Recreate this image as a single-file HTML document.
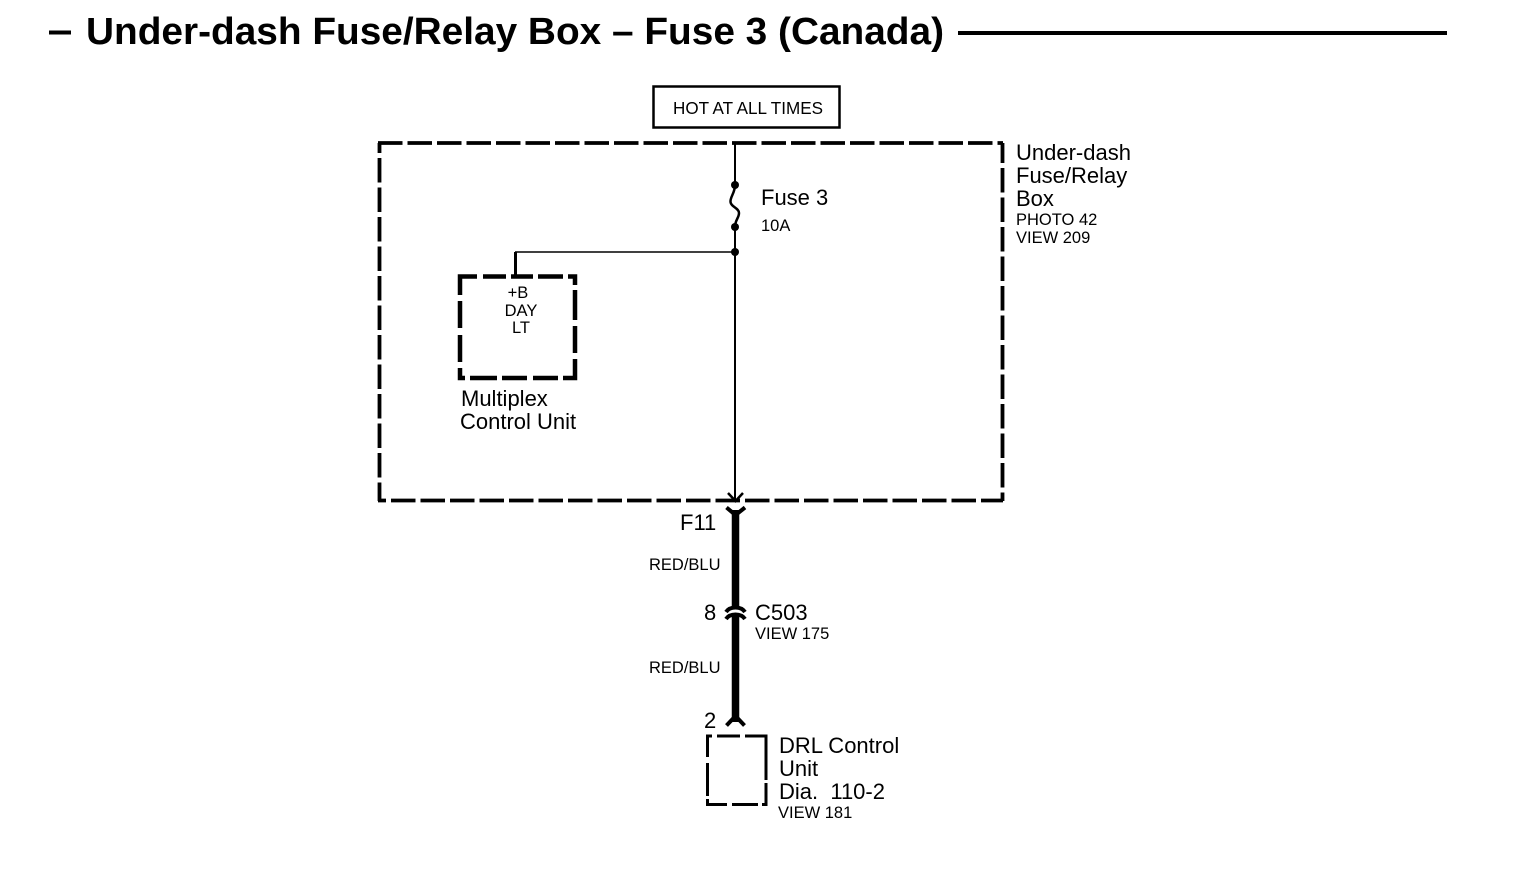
<!DOCTYPE html>
<html><head><meta charset="utf-8"><style>
html,body{margin:0;padding:0;background:#fff;width:1520px;height:876px;overflow:hidden}
svg{display:block}
text{font-family:"Liberation Sans",sans-serif;fill:#000}
.l{font-size:22px}
.s{font-size:16.5px}
</style></head><body>
<svg width="1520" height="876" viewBox="0 0 1520 876" xmlns="http://www.w3.org/2000/svg">
<rect width="1520" height="876" fill="#fff"/>
<!-- title -->
<rect x="49" y="30.500" width="22" height="4"/>
<text x="86" y="44" font-size="38" font-weight="bold" textLength="858" lengthAdjust="spacingAndGlyphs">Under-dash Fuse/Relay Box – Fuse 3 (Canada)</text>
<rect x="958" y="31" width="489" height="4"/>
<!-- hot box -->
<rect x="653.500" y="86.500" width="186" height="41" fill="none" stroke="#000" stroke-width="2.500"/>
<text x="673" y="114" font-size="17.5" textLength="150" lengthAdjust="spacingAndGlyphs">HOT AT ALL TIMES</text>
<!-- outer dashed box -->
<g fill="none" stroke="#000" stroke-width="3.800">
<path d="M378 143H1003" stroke-dasharray="24.500 5" stroke-dashoffset="0"/>
<path d="M379.500 143V501" stroke-dasharray="24.500 5" stroke-dashoffset="14.500"/>
<path d="M378 500.500H1003" stroke-dasharray="24.500 5" stroke-dashoffset="16.500"/>
<path d="M1002.500 143V501" stroke-dasharray="24.500 5" stroke-dashoffset="4.500"/>
</g>
<!-- wires -->
<g fill="none" stroke="#000">
<path d="M735 143V185" stroke-width="2"/>
<path d="M735 185C735 193 730 197 730.500 202C731 207 739 208 739 213C739 218 735 220 735 227" stroke-width="2.500"/>
<path d="M735 227V501" stroke-width="2"/>
<path d="M515 252H735" stroke-width="1.500"/>
<path d="M515.500 252V277" stroke-width="3"/>
<path d="M728 493L735.500 501L743 493" stroke-width="2.500"/>
</g>
<circle cx="735" cy="185" r="4"/>
<circle cx="735" cy="227" r="4"/>
<circle cx="735" cy="252" r="4"/>
<!-- multiplex box -->
<g fill="none" stroke="#000" stroke-width="4.500">
<path d="M460 295V276.500H477M483 276.500H506M511 276.500H533M538 276.500H563M568 276.500H575V285M575 290V320M575 326V353M575 359V378H563M558 378H533M527 378H502M497 378H470M465 378H460V368M460 362V335M460 328V301"/>
</g>
<!-- thick harness -->
<g fill="none" stroke="#000">
<path d="M735.500 510V606" stroke-width="7.500"/>
<path d="M735.500 616V722" stroke-width="7.500"/>
<path d="M726.500 507.500L735.500 515L745 507.500" stroke-width="4"/>
<path d="M726 612C730 606 741 606 745 612" stroke-width="4"/>
<path d="M726 619C730 613 741 613 745 619" stroke-width="4"/>
<path d="M726.500 725.500L735.500 716L744.500 725.500" stroke-width="4"/>
</g>
<!-- DRL box -->
<g fill="none" stroke="#000" stroke-width="3">
<path d="M712 736H707.500V757M707.500 763V796M707.500 799V804.500H727M732 804.500H758M762 804.500H766V783M766 780V736H745M740 736H717"/>
</g>
<!-- labels -->
<text class="l" x="1016" y="160">Under-dash</text>
<text class="l" x="1016" y="183">Fuse/Relay</text>
<text class="l" x="1016" y="206">Box</text>
<text class="s" x="1016" y="225">PHOTO 42</text>
<text class="s" x="1016" y="243">VIEW 209</text>
<text class="l" x="761" y="205">Fuse 3</text>
<text class="s" x="761" y="231">10A</text>
<text class="s" text-anchor="middle" x="518" y="298">+B</text>
<text class="s" text-anchor="middle" x="521" y="316">DAY</text>
<text class="s" text-anchor="middle" x="521" y="333">LT</text>
<text class="l" x="461" y="406">Multiplex</text>
<text class="l" x="460" y="429">Control Unit</text>
<text class="l" x="680" y="530">F11</text>
<text class="s" x="649" y="570">RED/BLU</text>
<text class="l" x="704" y="620">8</text>
<text class="l" x="755" y="620">C503</text>
<text class="s" x="755" y="639">VIEW 175</text>
<text class="s" x="649" y="673">RED/BLU</text>
<text class="l" x="704" y="728">2</text>
<text class="l" x="779" y="753">DRL Control</text>
<text class="l" x="779" y="776">Unit</text>
<text class="l" x="779" y="799" xml:space="preserve">Dia.  110-2</text>
<text class="s" x="778" y="818">VIEW 181</text>
</svg>
</body></html>
